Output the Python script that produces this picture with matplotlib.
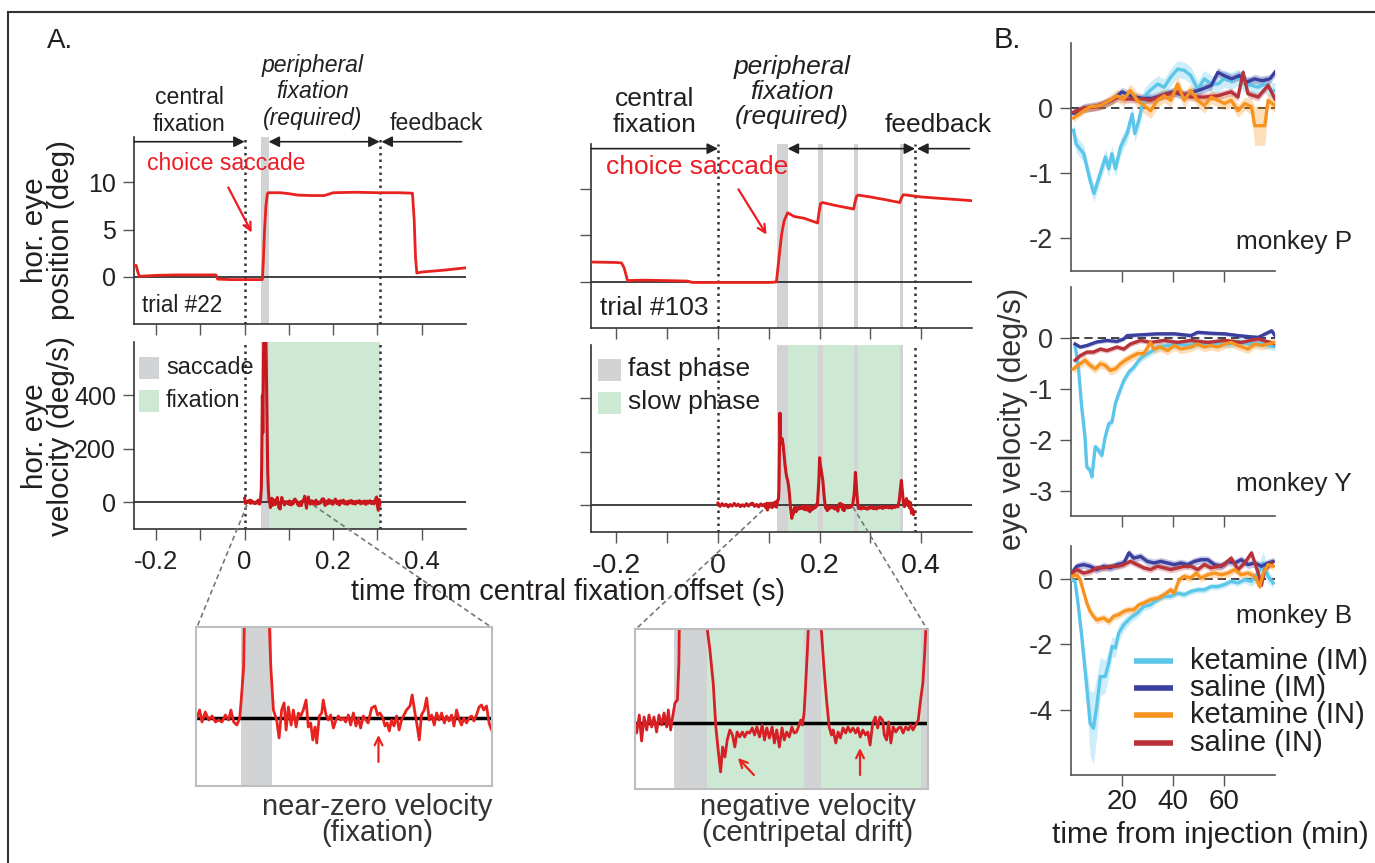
import numpy as np
import matplotlib
matplotlib.use('Agg')
import matplotlib.pyplot as plt
from matplotlib.lines import Line2D

plt.rcParams['font.family'] = ['Liberation Sans', 'DejaVu Sans']

# ---------------- DATA ----------------
# Panel A, trial #22: horizontal eye position (deg) vs time (s)
pos22_t = [-0.25, -0.245, -0.242, -0.238, -0.2, -0.15, -0.1, -0.065, -0.061, -0.03, 0.0, 0.02, 0.040,
           0.042, 0.045, 0.048, 0.051, 0.053, 0.08, 0.10, 0.12, 0.15, 0.18, 0.19, 0.20, 0.25, 0.30, 0.35,
           0.379, 0.383, 0.386, 0.389, 0.40, 0.45, 0.50]
pos22_v = [1.2, 1.2, 0.6, 0.05, 0.15, 0.2, 0.2, 0.2, -0.25, -0.3, -0.3, -0.3, -0.3,
           1.5, 5.0, 7.5, 8.7, 8.9, 8.9, 8.8, 8.65, 8.6, 8.6, 8.75, 8.9, 8.95, 8.9, 8.9,
           8.85, 6.0, 2.0, 0.4, 0.5, 0.7, 0.95]
# trial #103
pos103_t = [-0.25, -0.2, -0.19, -0.185, -0.178, -0.15, -0.1, -0.06, -0.05, 0.0, 0.05, 0.1, 0.115,
            0.12, 0.125, 0.13, 0.137, 0.15, 0.17, 0.196, 0.199, 0.202, 0.206, 0.23, 0.267, 0.27,
            0.273, 0.276, 0.3, 0.33, 0.358, 0.361, 0.365, 0.4, 0.45, 0.5]
pos103_v = [2.1, 2.05, 2.0, 1.5, 0.1, 0.15, 0.1, 0.05, -0.1, -0.1, -0.1, -0.1, -0.05,
            2.5, 5.0, 6.5, 7.4, 7.0, 6.8, 6.3, 7.5, 8.4, 8.5, 8.2, 7.8, 8.6,
            9.2, 9.3, 9.1, 8.8, 8.5, 9.0, 9.35, 9.1, 8.9, 8.7]

# horizontal eye velocity (deg/s); time in ms
vel22_tms = [0, 2, 4, 6, 8, 10.4, 12, 13.4, 15.3, 17.3, 19.2, 21.2, 23.1, 25, 27, 28.9, 30.2, 31.8, 33.7,
             35.3, 36.2, 37.6, 38.5, 40, 41, 43, 45, 48, 49, 50.5, 52, 53.4, 54.9,
             56.8, 58.2, 59.7, 61.1, 62.3, 63.6, 65.2, 66.5, 68.1, 69.4, 70.8, 72.3, 73.9, 75.2, 76.6,
             77.8, 79.1, 80.1, 81.6, 83, 83.9, 85.5, 86.8, 88.2, 89.8, 91.3, 92.7, 94, 95.6, 96.9, 98.5,
             99.8, 101.4, 102.9, 104.3, 105.6, 107.2, 108.7, 110, 112, 114, 115.5, 116.9, 118.5, 119.8,
             121.1, 122.3, 123.6, 125, 126.5, 128, 129.4, 130.8, 132.3, 134.3, 135.6, 137.2, 138.5,
             139.7, 141, 142.6, 144, 145.5, 146.9, 148.4, 149.8, 151.3, 152.7, 154.3, 155.6, 157.1,
             158.5, 159.9, 161.4, 163, 164.3, 165.6, 167.2, 168.7, 170.1, 171.5, 173, 174.5, 175.9,
             177.2, 178.8, 180.3, 181.7, 184, 187, 190, 193, 196, 199, 202, 205, 208, 211, 214, 217,
             220, 223, 226, 229, 232, 235, 238, 241, 244, 247, 250, 253, 256, 259, 262, 265, 268, 271,
             274, 277, 280, 283, 286, 289, 292, 295, 298, 300, 302, 304, 305]
vel22_v = [15, -5, 3, 0, 5, 0, 8, -4, 6, -2, 2, -4, -2, -4, 3, -2, 8, -4, -7,
           0, 18, 51, 150, 400, 260, 600, 700, 600, 500, 300, 120, 51, 8,
           -2, -20, 8, 15, -12, 11, -7, 8, -9, 5, 2, 8, 18, -9, -5,
           -22, -9, -25, 2, 5, 18, 3, -2, 3, -10, -2, 2, -2, 0, -4, 3,
           -7, 5, -8, 0, -10, 2, -2, -5, 10, 12, 3, 5, 0, -8,
           -5, -13, -2, -8, 2, -12, -2, 3, 8, 12, 23, 5, -8,
           -22, 3, 8, 20, -2, 3, -7, 5, -2, 5, -5, 2, -3,
           3, -8, 8, -2, -7, 0, -5, 0, 2, -3, 3, 11, 13,
           8, 12, -5, -12, 4, -6, 10, -4, 6, -8, 3, 12, -5, 4, -10, 6,
           -3, 8, -6, 2, -8, 5, -3, 7, -5, 3, -7, 4, -2, 6, -6, 3, -4, 5,
           -8, 4, -3, 6, -5, 3, -6, 8, 20, -15, -30, 10, -10]

vel103_tms = [0, 4, 8, 12, 16, 20, 24, 28, 32, 36, 40, 44, 48, 52, 56, 60, 64, 68, 72, 76, 80, 84, 88, 91,
              93.4, 94.4, 96.0, 97.4, 98.9, 100.5, 101.9, 103.5, 104.9, 106.5, 107.9, 109.6, 111, 112.6,
              113.6, 115, 116.2, 117.6, 119.1, 120, 121, 122, 123, 124.5, 126, 128, 130, 132, 134, 136,
              137.2, 138.8, 140.8, 142.4, 143.8, 145.3, 146.5, 147.9, 149.3, 150.9, 152.5, 153.9, 155.3,
              156.9, 158.5, 159.9, 161.3, 162.9, 164.5, 165.9, 167.3, 168.9, 170.5, 171.9, 173.3, 174.9,
              176.5, 177.9, 179.3, 180.9, 182.5, 183.9, 185.3, 186.9, 188.5, 189.9, 191.3, 192.9, 193.9,
              194.9, 195.9, 196.9, 197.9, 198.9, 200, 201.5, 203, 205, 206.5, 207.9, 209.5, 211.1,
              212.5, 213.5, 215.1, 216.5, 217.9, 219.5, 221.1, 222.5, 223.9, 225.5, 227.1, 228.5, 229.9,
              231.5, 233.1, 234.5, 235.9, 237.5, 239.1, 240.5, 241.9, 243.5, 244.5, 245.9, 247.1, 248.5,
              249.9, 251.5, 253.1, 254.5, 255.9, 257.5, 259.1, 260.5, 261.9, 263.5, 265.1, 266.5, 267.9,
              269.1, 270.5, 272, 273.5, 275, 276.5, 279, 282, 285, 288, 291, 294, 297, 300, 303, 306,
              309, 312, 315, 318, 321, 324, 327, 330, 333, 336, 339, 342, 345, 348, 351, 354,
              357, 359, 361, 363, 365, 367, 369, 371, 373, 375, 377, 379, 381, 383, 385, 386]
vel103_v = [8, -4, 6, -2, 4, -6, 3, -3, 7, -2, 4, -5, 2, -4, 6, -3, 5, 8, -4, 3, -6, 5, -2, 4,
            0, -10, 8, -18, 6, -7, 8, -4, 6, -9, 8, -2, 10, -4,
            13, -7, 6, 20, 23, 60, 200, 345, 260, 230, 250, 230, 190, 150, 120, 100,
            94, 73, 40, -4, -27, -49, -24, -34, -17, -7, -12, -24, -9,
            -14, -9, -14, -9, -10, -5, -12, -4, -14, -2, -17, -5, -15,
            -4, -20, -7, -24, -5, -17, -9, -14, -4, -10, -9, -2, 3,
            -2, 10, 40, 73, 110, 178, 150, 135, 110, 90, 56, 23, -4,
            -12, -7, -20, -9, -15, -5, -10, -4, -9, -5, -10, -5, -14,
            -7, -12, -9, -22, 0, 6, -5, 6, 3, -12, -17, 1, -20,
            -4, -9, -5, -4, -10, -4, -7, -2, -7, -2, 3, 23, 40,
            73, 123, 85, 40, 5, -12, -8, -14, -6, -12, -9, -15, -7, -11, -5, -13,
            -8, -14, -6, -10, -4, -12, -7, -9, -3, -10, -6, -11, -4, -8, -3, -6,
            20, 60, 93, 50, 10, -5, 5, 25, 0, 15, -10, 10, -30, -15, -35, -25]

# epochs (s)
fix22_dots = [0.0, 0.305]
sacc22 = [(0.036, 0.054)]
fix22 = (0.054, 0.305)
fix103_dots = [0.0, 0.388]
fast103 = [(0.117, 0.137), (0.196, 0.206), (0.267, 0.275), (0.358, 0.365)]
slow103 = (0.137, 0.358)

# Panel B: eye velocity (deg/s) vs time from injection (min)
P_ketIM_t = [1, 2, 5, 7.5, 9, 11.5, 13.5, 14.8, 16, 17.4, 19.4, 22, 24, 25, 26.6, 28.6, 31, 34, 36.5, 39,
             41.8, 44.4, 47, 49.7, 52.3, 55, 57.6, 60, 62.8, 65.5, 68, 70.8, 73.4, 76, 78.7, 80]
P_ketIM_v = [-0.34, -0.55, -0.70, -1.11, -1.31, -1.0, -0.75, -0.93, -0.70, -0.93, -0.60, -0.39, -0.09,
             -0.39, -0.19, 0.17, 0.27, 0.37, 0.32, 0.47, 0.60, 0.58, 0.50, 0.29, 0.45, 0.37, 0.37, 0.45,
             0.42, 0.47, 0.37, 0.35, 0.32, 0.37, 0.27, 0.27]
P_salIM_t = [1, 3, 5, 8, 12, 16, 20, 24, 28, 32, 36, 40, 44, 48, 52, 55, 57.6, 60, 63, 66, 69, 72, 75, 78, 80]
P_salIM_v = [-0.08, -0.05, 0.0, 0.02, 0.05, 0.12, 0.25, 0.18, 0.15, 0.15, 0.2, 0.25, 0.2, 0.25, 0.3, 0.35,
             0.55, 0.5, 0.45, 0.5, 0.4, 0.45, 0.42, 0.45, 0.55]
P_ketIN_t = [1, 4.9, 7.5, 11.5, 15.4, 18, 20.7, 23.3, 26, 28.6, 31.2, 33.9, 36.5, 39.1, 41.8, 44.4, 47,
             49.7, 52.3, 55, 57.6, 60.2, 62.8, 65.5, 68.1, 70.8, 72, 76, 77.3, 80]
P_ketIN_v = [-0.15, -0.04, 0.02, 0.04, 0.12, 0.19, 0.14, 0.27, 0.12, 0.04, -0.04, 0.12, 0.19, 0.12, 0.37,
             0.12, 0.27, 0.12, 0.04, 0.17, 0.12, 0.07, 0.12, -0.04, 0.07, 0.02, -0.27, -0.27, 0.12, 0.04]
P_ketIN_sem = [0.06, 0.06, 0.06, 0.07, 0.08, 0.1, 0.1, 0.1, 0.12, 0.12, 0.12, 0.12, 0.1, 0.1, 0.12, 0.12,
               0.1, 0.1, 0.12, 0.1, 0.1, 0.1, 0.1, 0.1, 0.1, 0.12, 0.3, 0.3, 0.12, 0.1]
P_salIN_t = [1, 5, 10, 18.5, 21, 24, 28.6, 31, 36.5, 41.8, 47, 52.3, 57.6, 62.8, 65.5, 67.5, 69.4, 73.4, 77.3, 80]
P_salIN_v = [-0.06, 0.0, 0.02, 0.17, 0.14, 0.14, 0.14, 0.12, 0.2, 0.25, 0.17, 0.17, 0.19, 0.25, 0.17, 0.55,
             0.22, 0.17, 0.35, 0.14]

Y_ketIM_t = [1.6, 2.9, 4.2, 5.5, 6.2, 7.5, 8.2, 9.5, 10.8, 12.1, 13.4, 14.8, 16.1, 17.4, 18.7, 20.7, 22.7,
             24.6, 26.6, 28.6, 31.2, 33.9, 38, 42, 46, 50, 54, 58, 62, 66, 70, 74, 78, 80]
Y_ketIM_v = [-0.15, -0.58, -1.36, -1.95, -2.54, -2.6, -2.73, -2.14, -2.21, -2.31, -1.95, -1.69, -1.65,
             -1.29, -1.1, -0.84, -0.67, -0.58, -0.44, -0.35, -0.28, -0.18, -0.15, -0.12, -0.15, -0.1,
             -0.12, -0.1, -0.12, -0.08, -0.12, -0.1, -0.15, -0.18]
Y_salIM_t = [1.6, 3.6, 6.2, 10.1, 14.1, 18, 20.7, 22, 27.3, 33.9, 40.5, 47, 49.7, 55, 60.2, 65.5, 70.8,
             73.4, 78.7, 80]
Y_salIM_v = [-0.12, -0.18, -0.15, -0.08, -0.05, -0.07, -0.02, 0.045, 0.06, 0.08, 0.08, 0.045, 0.11, 0.09,
             0.08, 0.045, 0.02, 0.01, 0.14, 0.045]
Y_ketIN_t = [0.9, 3.6, 5.5, 7.5, 9.5, 11.5, 13.4, 15.4, 17.4, 19.4, 21.3, 23.3, 26, 28.6, 31.2, 32.5,
             35.2, 37.8, 40.5, 43.1, 47, 49.7, 52.3, 54.9, 57.6, 60.2, 62.8, 65.5, 69.4, 72.1, 74.7, 77.3, 80]
Y_ketIN_v = [-0.61, -0.51, -0.44, -0.54, -0.61, -0.51, -0.54, -0.64, -0.61, -0.51, -0.44, -0.38, -0.31,
             -0.31, -0.09, -0.22, -0.18, -0.25, -0.15, -0.22, -0.18, -0.12, -0.18, -0.15, -0.18, -0.12,
             -0.09, -0.15, -0.22, -0.12, -0.15, -0.12, -0.09]
Y_salIN_t = [1.6, 3.6, 6.2, 8.8, 11.5, 14.1, 18, 20.7, 23.3, 27.3, 31.2, 36.5, 41.8, 47, 53.6, 60.2, 66.8,
             73.4, 80]
Y_salIN_v = [-0.44, -0.35, -0.28, -0.28, -0.22, -0.25, -0.18, -0.22, -0.12, -0.05, -0.09, -0.05, -0.09,
             -0.05, -0.09, -0.05, -0.09, -0.02, -0.12]

B_ketIM_t = [0.3, 1.6, 2.9, 4.2, 5.5, 6.9, 7.5, 8.8, 10.1, 11.5, 13.4, 14.8, 16.1, 17.4, 18.7, 20.7, 23.3,
             26, 28.6, 31.2, 33.9, 36.5, 39.1, 41.8, 44.4, 47, 49.7, 52.3, 54.9, 57.6, 60.2, 62.8, 65.5,
             68.1, 70.8, 73.4, 75.4, 77.3, 79.3]
B_ketIM_v = [-0.03, -0.08, -0.85, -1.76, -2.78, -3.9, -4.41, -4.57, -3.9, -2.99, -2.99, -2.58, -2.07,
             -2.12, -1.66, -1.41, -1.2, -1.05, -0.85, -0.8, -0.64, -0.54, -0.54, -0.44, -0.49, -0.39,
             -0.34, -0.34, -0.24, -0.24, -0.18, -0.08, -0.13, -0.03, -0.08, 0.17, 0.48, 0.07, -0.13]
B_ketIM_sem = [0.05, 0.1, 0.2, 0.35, 0.5, 0.8, 1.0, 1.1, 0.9, 0.6, 0.5, 0.4, 0.3, 0.3, 0.25, 0.2, 0.15,
               0.15, 0.12, 0.12, 0.1, 0.1, 0.1, 0.1, 0.1, 0.1, 0.1, 0.1, 0.1, 0.1, 0.1, 0.1, 0.1, 0.1,
               0.15, 0.25, 0.35, 0.2, 0.15]
B_salIM_t = [0.3, 2.2, 4.9, 7.5, 10.1, 12.8, 15.4, 18, 20.7, 22.7, 24.6, 27.3, 29.9, 32.5, 35.2, 37.8,
             40.5, 43.1, 45.7, 48.4, 51, 53.6, 56.3, 58.9, 61.5, 64.2, 66.8, 69.4, 72.1, 74.7, 77.3, 79.3]
B_salIM_v = [0.17, 0.38, 0.43, 0.38, 0.28, 0.38, 0.33, 0.43, 0.48, 0.79, 0.63, 0.68, 0.53, 0.48, 0.53,
             0.48, 0.43, 0.48, 0.43, 0.53, 0.58, 0.58, 0.43, 0.38, 0.53, 0.48, 0.58, 0.43, 0.48, 0.38,
             0.48, 0.53]
B_ketIN_t = [0.3, 2.2, 3.6, 4.9, 6.2, 7.5, 8.8, 10.1, 12.8, 14.8, 16.7, 18.7, 20.7, 22.7, 24.6, 26.6,
             28.6, 31.2, 33.9, 36.5, 39.1, 40.5, 42.4, 44.4, 47, 49, 51, 53.6, 56.3, 58.9, 61.5, 64.2,
             66.8, 69.4, 72.1, 74, 75.4, 77.3, 79.3]
B_ketIN_v = [0.07, 0.12, -0.03, -0.39, -0.74, -1.0, -1.15, -1.26, -1.2, -1.31, -1.15, -1.1, -1.0, -0.95,
             -0.95, -0.8, -0.74, -0.64, -0.6, -0.49, -0.34, -0.44, -0.03, 0.07, 0.02, 0.17, 0.02, 0.12,
             0.17, 0.12, 0.17, 0.28, 0.12, 0.17, 0.07, -0.24, 0.17, 0.43, 0.38]
B_salIN_t = [0.3, 2.2, 4.9, 7.5, 10.1, 12.8, 15.4, 18, 20.7, 23.3, 26, 28.6, 31.2, 33.9, 36.5, 39.1, 41.8,
             44.4, 47, 49.7, 52.3, 54.9, 57.6, 60.2, 62.8, 65.5, 68.1, 70.8, 73.4, 74.7, 76, 78.7]
B_salIN_v = [0.17, 0.28, 0.17, 0.22, 0.33, 0.33, 0.38, 0.38, 0.43, 0.53, 0.43, 0.33, 0.28, 0.38, 0.33,
             0.28, 0.33, 0.38, 0.38, 0.28, 0.43, 0.33, 0.38, 0.43, 0.63, 0.28, 0.48, 0.79, 0.17, -0.2,
             0.28, 0.48]

cond_labels = ['ketamine (IM)', 'saline (IM)', 'ketamine (IN)', 'saline (IN)']
cond_colors = ['#5cc6ea', '#3b3f9e', '#f7931e', '#b8323a']
monkey_names = ['monkey P', 'monkey Y', 'monkey B']

# ---------------- FIGURE ----------------
W, H = 1375, 863
fig = plt.figure(figsize=(W / 100, H / 100), dpi=100)
FS = 18
FSL = 16.6   # annotation size, left trial
FSR = 19.0   # annotation size, right trial
TXT = '#231f20'
RED_POS = '#e8231f'
RED_VEL = '#c8171d'
GRAY = '#d1d3d4'
GREEN = '#cde8d3'


def px_ax(x0, y0, x1, y1):
    return fig.add_axes([x0 / W, 1 - y1 / H, (x1 - x0) / W, (y1 - y0) / H])


def ftext(x, y, s, **kw):
    kw.setdefault('fontsize', FS)
    kw.setdefault('color', TXT)
    return fig.text(x / W, 1 - y / H, s, **kw)


def fline(xs, ys, **kw):
    fig.add_artist(Line2D([x / W for x in xs], [1 - y / H for y in ys],
                          transform=fig.transFigure, **kw))


# outer frame
fline([8, 1375], [12, 12], color='#333333', lw=1.5)
fline([8, 8], [12, 863], color='#333333', lw=1.5)


def style_A(ax, xls):
    for s in ['top', 'right']:
        ax.spines[s].set_visible(False)
    for s in ['left', 'bottom']:
        ax.spines[s].set_color('#333333')
        ax.spines[s].set_linewidth(1.2)
    ax.tick_params(direction='out', length=8, width=1.0, color='#555555',
                   labelsize=FS, labelcolor=TXT, pad=5)
    ax.tick_params(axis='x', labelsize=xls, pad=7)
    ax.set_xlim(-0.25, 0.5)
    ax.set_xticks([-0.2, -0.1, 0, 0.1, 0.2, 0.3, 0.4])
    ax.set_xticklabels([])


# ---- Panel A axes ----
axP22 = px_ax(134, 137, 466, 324)
axV22 = px_ax(134, 342, 466, 529)
axP103 = px_ax(591, 144, 972, 328)
axV103 = px_ax(591, 345, 972, 532)

for ax, pt, pv, dots, fast, xls in [(axP22, pos22_t, pos22_v, fix22_dots, sacc22, 18.5),
                                    (axP103, pos103_t, pos103_v, fix103_dots, fast103, 20.5)]:
    style_A(ax, xls)
    ax.set_ylim(-5, 14.8)
    ax.set_yticks([0, 5, 10])
    for a, b in fast:
        ax.axvspan(a, b, color=GRAY, lw=0, zorder=0)
    ax.axhline(0, color='#222222', lw=1.2, zorder=1)
    for d in dots:
        ax.axvline(d, color='#333333', lw=1.8, ls=(0, (1, 1.6)), zorder=2)
    ax.plot(pt, pv, color=RED_POS, lw=2.0, zorder=3)
axP103.set_yticklabels([])

for ax, vt, vv, dots, fast, slow, xls in [(axV22, vel22_tms, vel22_v, fix22_dots, sacc22, fix22, 18.5),
                                           (axV103, vel103_tms, vel103_v, fix103_dots, fast103, slow103, 20.5)]:
    style_A(ax, xls)
    ax.set_ylim(-100, 600)
    ax.set_yticks([0, 200, 400])
    ax.axvspan(slow[0], slow[1], color=GREEN, lw=0, zorder=0)
    for a, b in fast:
        ax.axvspan(a, b, color=GRAY, lw=0, zorder=0.5)
    ax.axhline(0, color='#222222', lw=1.2, zorder=1)
    for d in dots:
        ax.axvline(d, color='#333333', lw=1.8, ls=(0, (1, 1.6)), zorder=2)
    ax.plot(np.array(vt) / 1000.0, vv, color=RED_VEL, lw=2.2, zorder=3)
    ax.set_xticklabels(['-0.2', '', '0', '', '0.2', '', '0.4'])
axV103.set_yticklabels([])

axP22.set_yticklabels(['0', '5', '10'])
axV22.set_yticklabels(['0', '200', '400'])

# y labels of panel A
ftext(48, 230, 'hor. eye\nposition (deg)', rotation=90, ha='center', va='center', linespacing=0.9,
      fontsize=21.4)
ftext(48, 436, 'hor. eye\nvelocity (deg/s)', rotation=90, ha='center', va='center', linespacing=0.9,
      fontsize=21.4)
ftext(568, 592, 'time from central fixation offset (s)', ha='center', va='center', fontsize=20.8)

# epoch annotations with arrows
def harrow(ax, x0, x1, style, y=14.3):
    ax.annotate('', xy=(x1, y), xytext=(x0, y), xycoords='data',
                arrowprops=dict(arrowstyle=style, lw=1.2, color='#222222',
                                mutation_scale=16, shrinkA=0, shrinkB=0),
                annotation_clip=False)

harrow(axP22, -0.25, 0.0, '-|>')
harrow(axP22, sacc22[0][1], fix22_dots[1], '<|-|>')
harrow(axP22, fix22_dots[1] + 0.004, 0.49, '<|-')
harrow(axP103, -0.25, 0.0, '-|>')
harrow(axP103, fast103[0][1], fix103_dots[1], '<|-|>')
harrow(axP103, fix103_dots[1] + 0.004, 0.495, '<|-')

ftext(189, 111, 'central\nfixation', ha='center', va='center', linespacing=1.2, fontsize=FSL)
ftext(313, 92, 'peripheral\nfixation\n(required)', ha='center', va='center', linespacing=1.22,
      style='italic', fontsize=FSL)
ftext(436, 124, 'feedback', ha='center', va='center', fontsize=FSL)
ftext(655, 112, 'central\nfixation', ha='center', va='center', linespacing=1.09, fontsize=FSR)
ftext(792, 92, 'peripheral\nfixation\n(required)', ha='center', va='center', linespacing=1.07,
      style='italic', fontsize=FSR)
ftext(938, 125, 'feedback', ha='center', va='center', fontsize=FSR)

ftext(147, 164, 'choice saccade', ha='left', va='center', color='#ee1c25', fontsize=FSL)
ftext(606, 167, 'choice saccade', ha='left', va='center', color='#ee1c25', fontsize=FSR)
for (x0, y0, x1, y1) in [(227, 185, 253, 235), (737, 187, 768, 237)]:
    fig.add_artist(matplotlib.patches.FancyArrowPatch(
        (x0 / W, 1 - y0 / H), (x1 / W, 1 - y1 / H), transform=fig.transFigure,
        arrowstyle='->', mutation_scale=14, lw=1.6, color='#ee1c25'))

ftext(142, 306, 'trial #22', ha='left', va='center', fontsize=16.3)
ftext(600, 308, 'trial #103', ha='left', va='center', fontsize=FSR)

# legends of velocity panels (patches + labels)
for (x0, x1, ys, labels, fsz) in [(139, 159, [(357, 379), (390, 412)], ['saccade', 'fixation'], 16.8),
                                  (598, 621, [(359, 381), (392, 414)], ['fast phase', 'slow phase'], FSR)]:
    for (ya, yb), lab, col in zip(ys, labels, [GRAY, GREEN]):
        fig.add_artist(matplotlib.patches.Rectangle((x0 / W, 1 - yb / H), (x1 - x0) / W, (yb - ya) / H,
                                                    transform=fig.transFigure, color=col, lw=0))
        ftext(x1 + 7, (ya + yb) / 2 - 1, lab, ha='left', va='center', fontsize=fsz)

ftext(47, 41, 'A.', ha='left', va='center', fontsize=20)
ftext(994, 40, 'B.', ha='left', va='center', fontsize=21)

# ---- insets ----
def style_inset(ax):
    ax.set_xticks([])
    ax.set_yticks([])
    for s in ax.spines.values():
        s.set_color('#bcbec0')
        s.set_linewidth(1.5)

insL = px_ax(196, 627, 492, 786)
style_inset(insL)
insL.set_xlim(0.0099, 0.182)
insL.set_ylim(-68, 91)
for a, b in sacc22:
    insL.axvspan(a, b, color=GRAY, lw=0, zorder=0)
insL.axhline(0, color='black', lw=2.5, zorder=1)
insL.plot(np.array(vel22_tms) / 1000.0, vel22_v, color='#e8231f', lw=2.0, zorder=2)
insL.annotate('', xy=(0.116, -17), xytext=(0.116, -44),
              arrowprops=dict(arrowstyle='->', color='#e8231f', lw=1.6, mutation_scale=14,
                              shrinkA=0, shrinkB=0))

insR = px_ax(635, 629, 928, 789)
style_inset(insR)
insR.set_xlim(0.0934, 0.271)
insR.set_ylim(-66, 94)
insR.axvspan(slow103[0], slow103[1], color=GREEN, lw=0, zorder=0)
for a, b in fast103:
    insR.axvspan(a, b, color=GRAY, lw=0, zorder=0.5)
insR.axhline(0, color='black', lw=2.5, zorder=1)
insR.plot(np.array(vel103_tms) / 1000.0, vel103_v, color='#d71f26', lw=2.0, zorder=2)
insR.annotate('', xy=(0.1558, -35), xytext=(0.1655, -52),
              arrowprops=dict(arrowstyle='->', color='#e8231f', lw=1.6, mutation_scale=14,
                              shrinkA=0, shrinkB=0))
insR.annotate('', xy=(0.2298, -25), xytext=(0.2298, -52),
              arrowprops=dict(arrowstyle='->', color='#e8231f', lw=1.6, mutation_scale=14,
                              shrinkA=0, shrinkB=0))

for xs, ys in [([247, 197], [505, 627]), ([313, 491], [505, 627]),
               ([763, 636], [510, 629]), ([853, 927], [507, 629])]:
    fline(xs, ys, color='#777777', lw=1.2, ls=(0, (3, 2)))

ftext(377, 820, 'near-zero velocity\n(fixation)', ha='center', va='center', linespacing=0.92,
      color='#333333', fontsize=21)
ftext(808, 820, 'negative velocity\n(centripetal drift)', ha='center', va='center', linespacing=0.92,
      color='#333333', fontsize=21)

# ---- Panel B ----
B_data = [
    [(P_ketIM_t, P_ketIM_v, 0.13), (P_salIM_t, P_salIM_v, 0.07), (P_ketIN_t, P_ketIN_v, P_ketIN_sem),
     (P_salIN_t, P_salIN_v, 0.06)],
    [(Y_ketIM_t, Y_ketIM_v, 0.08), (Y_salIM_t, Y_salIM_v, 0.04), (Y_ketIN_t, Y_ketIN_v, 0.09),
     (Y_salIN_t, Y_salIN_v, 0.05)],
    [(B_ketIM_t, B_ketIM_v, B_ketIM_sem), (B_salIM_t, B_salIM_v, 0.12), (B_ketIN_t, B_ketIN_v, 0.12),
     (B_salIN_t, B_salIN_v, 0.1)],
]
B_boxes = [(1071, 43, 1275, 271), (1071, 287, 1275, 516), (1071, 546, 1275, 775)]
B_ylims = [(-2.5, 1), (-3.5, 1), (-6, 1)]
B_yticks = [[-2, -1, 0], [-3, -2, -1, 0], [-4, -2, 0]]
B_name_y = [242, 484, 616]
draw_order = [0, 1, 3, 2]

axesB = []
for i in range(3):
    ax = px_ax(*B_boxes[i])
    axesB.append(ax)
    ax.set_xlim(0, 80)
    ax.set_ylim(*B_ylims[i])
    ax.set_yticks(B_yticks[i])
    ax.set_yticklabels([str(v) for v in B_yticks[i]])
    ax.set_xticks([20, 40, 60])
    for s in ['top', 'right']:
        ax.spines[s].set_visible(False)
    for s in ['left', 'bottom']:
        ax.spines[s].set_color('#555555')
        ax.spines[s].set_linewidth(1.2)
    ax.tick_params(direction='out', length=8, width=1.0, color='#555555',
                   labelsize=19.5, labelcolor='#333333', pad=5)
    ax.plot([0, 80], [0, 0], color='#222222', lw=1.2, ls=(0, (5, 3)), zorder=1)
    for j in draw_order:
        t, v, sem = B_data[i][j]
        t = np.array(t)
        v = np.array(v)
        sem = np.array(sem) if np.ndim(sem) else np.full(len(v), sem)
        ax.fill_between(t, v - sem, v + sem, color=cond_colors[j], alpha=0.3, lw=0, zorder=2)
        ax.plot(t, v, color=cond_colors[j], lw=2.4, zorder=3)
    ftext(1352, B_name_y[i], monkey_names[i], ha='right', va='center', color='#222222', fontsize=18.8)
    if i < 2:
        ax.set_xticklabels([])
    else:
        ax.set_xticklabels(['20', '40', '60'], color=TXT)
        ax.tick_params(axis='x', pad=2, labelsize=20)

ftext(1210, 835, 'time from injection (min)', ha='center', va='center', fontsize=21.4)
ftext(1013, 419, 'eye velocity (deg/s)', rotation=90, ha='center', va='center', color='#333333',
      fontsize=22)

# legend of panel B (drawn from the condition lists)
leg_rows_y = [661, 688, 715, 743]
for lab, col, yy in zip(cond_labels, cond_colors, leg_rows_y):
    fline([1134, 1173], [yy, yy], color=col, lw=4.0, solid_capstyle='butt')
    ftext(1190, yy, lab, ha='left', va='center', color='#222222', fontsize=21)

fig.savefig('out.png', dpi=100)
